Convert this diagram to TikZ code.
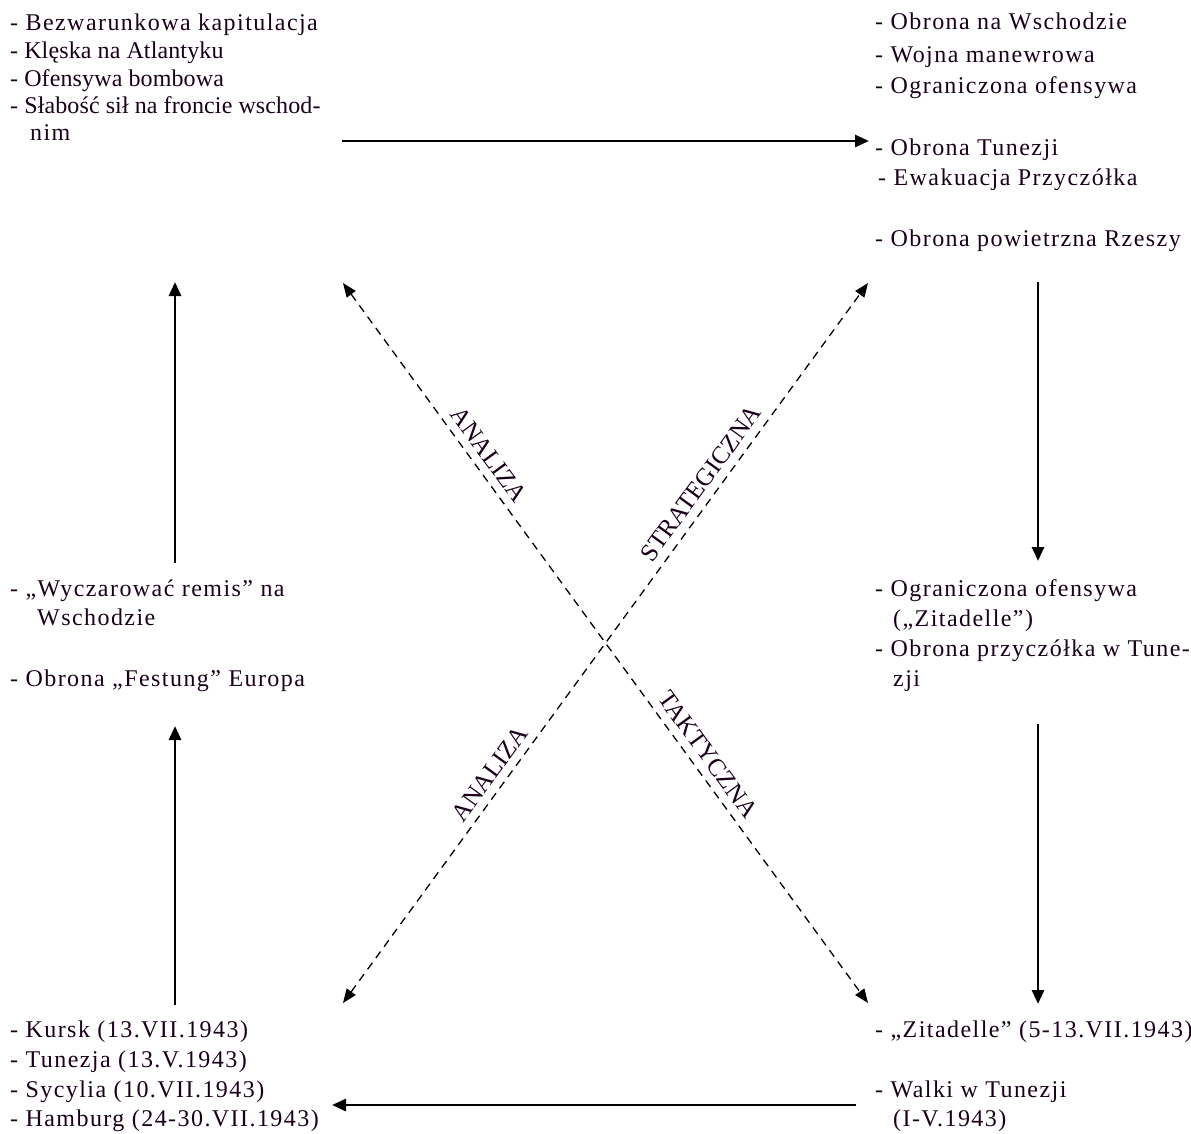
\documentclass[tikz,border=0pt]{standalone}
\usepackage{fontspec}
\setmainfont{Liberation Serif}
\newfontfamily\bodyfont[LetterSpace=6]{Liberation Serif}
\newfontfamily\tightfont[LetterSpace=0.5]{Liberation Serif}
\newfontfamily\labfont{Liberation Serif}
\usetikzlibrary{arrows.meta}
\definecolor{ink}{HTML}{1A001A}
\begin{document}
\begin{tikzpicture}[x=1pt,y=-1pt,
  txt/.style={anchor=base west, inner sep=0pt, font=\bodyfont\fontsize{24}{28}\selectfont, text=ink},
  tighttxt/.style={txt, font=\tightfont\fontsize{24}{28}\selectfont},
  lab/.style={font=\labfont\fontsize{25}{28}\selectfont, text=ink, inner sep=1pt, sloped},
  solidarrow/.style={line width=2.8pt, draw=black, -{Triangle[length=14pt,width=12pt]}},
  dasharrow/.style={line width=1.3pt, draw=black, dash pattern=on 8pt off 6pt, {Triangle[length=14pt,width=11pt]}-{Triangle[length=14pt,width=11pt]}}]
\fill[white] (0,0) rectangle (1191,1133);
\useasboundingbox (0,0) rectangle (1191,1133);
% top-left
\node[txt] (tl1) at (10,30) {- Bezwarunkowa kapitulacja};
\node[tighttxt] (tl2) at (10,58) {- Klęska na Atlantyku};
\node[tighttxt] (tl3) at (10,86) {- Ofensywa bombowa};
\node[tighttxt] (tl4) at (10,113) {- Słabość sił na froncie wschod-};
\node[txt] (tl5) at (30,140) {nim};
% top-right
\node[txt] (tr1) at (875,29) {- Obrona na Wschodzie};
\node[txt] (tr2) at (875,62) {- Wojna manewrowa};
\node[txt] (tr3) at (875,93) {- Ograniczona ofensywa};
\node[txt] (tr4) at (875,155) {- Obrona Tunezji};
\node[txt] (tr5) at (878,185) {- Ewakuacja Przyczółka};
\node[txt] (tr6) at (875,246) {- Obrona powietrzna Rzeszy};
% mid-left
\node[txt] (ml1) at (10,596) {- „Wyczarować remis” na};
\node[txt] (ml2) at (37,625) {Wschodzie};
\node[txt] (ml3) at (10,686) {- Obrona „Festung” Europa};
% mid-right
\node[txt] (mr1) at (875,596) {- Ograniczona ofensywa};
\node[txt] (mr2) at (893,626) {(„Zitadelle”)};
\node[txt] (mr3) at (875,656) {- Obrona przyczółka w Tune-};
\node[txt] (mr4) at (893,686) {zji};
% bottom-left
\node[txt] (bl1) at (10,1037) {- Kursk (13.VII.1943)};
\node[txt] (bl2) at (10,1067) {- Tunezja (13.V.1943)};
\node[txt] (bl3) at (10,1097) {- Sycylia (10.VII.1943)};
\node[txt] (bl4) at (10,1126) {- Hamburg (24-30.VII.1943)};
% bottom-right
\node[txt] (br1) at (875,1037) {- „Zitadelle” (5-13.VII.1943)};
\node[txt] (br2) at (875,1097) {- Walki w Tunezji};
\node[txt] (br3) at (893,1126) {(I-V.1943)};
% arrow end points
\coordinate (h1a) at (342,141);  \coordinate (h1b) at (869,141);
\coordinate (v1a) at (1038,282); \coordinate (v1b) at (1038,561);
\coordinate (v2a) at (1038,724); \coordinate (v2b) at (1038,1004);
\coordinate (h2a) at (856,1105); \coordinate (h2b) at (332,1105);
\coordinate (v3a) at (175,1005); \coordinate (v3b) at (175,726);
\coordinate (v4a) at (175,563);  \coordinate (v4b) at (175,282);
\coordinate (dA) at (343,283);   \coordinate (dB) at (868,1003);
\coordinate (dC) at (343,1003);  \coordinate (dD) at (868,283);
\draw[solidarrow] (h1a) -- (h1b);
\draw[solidarrow] (v1a) -- (v1b);
\draw[solidarrow] (v2a) -- (v2b);
\draw[solidarrow] (h2a) -- (h2b);
\draw[solidarrow] (v3a) -- (v3b);
\draw[solidarrow] (v4a) -- (v4b);
\draw[dasharrow] (dA) -- node[lab, pos=0.252, above=7pt] (l1) {ANALIZA}
                           node[lab, pos=0.669, above=7pt] (l2) {TAKTYCZNA} (dB);
\draw[dasharrow] (dC) -- node[lab, pos=0.305, above=7pt] (l3) {ANALIZA}
                           node[lab, pos=0.708, above=7pt] (l4) {STRATEGICZNA} (dD);
\end{tikzpicture}
\end{document}
